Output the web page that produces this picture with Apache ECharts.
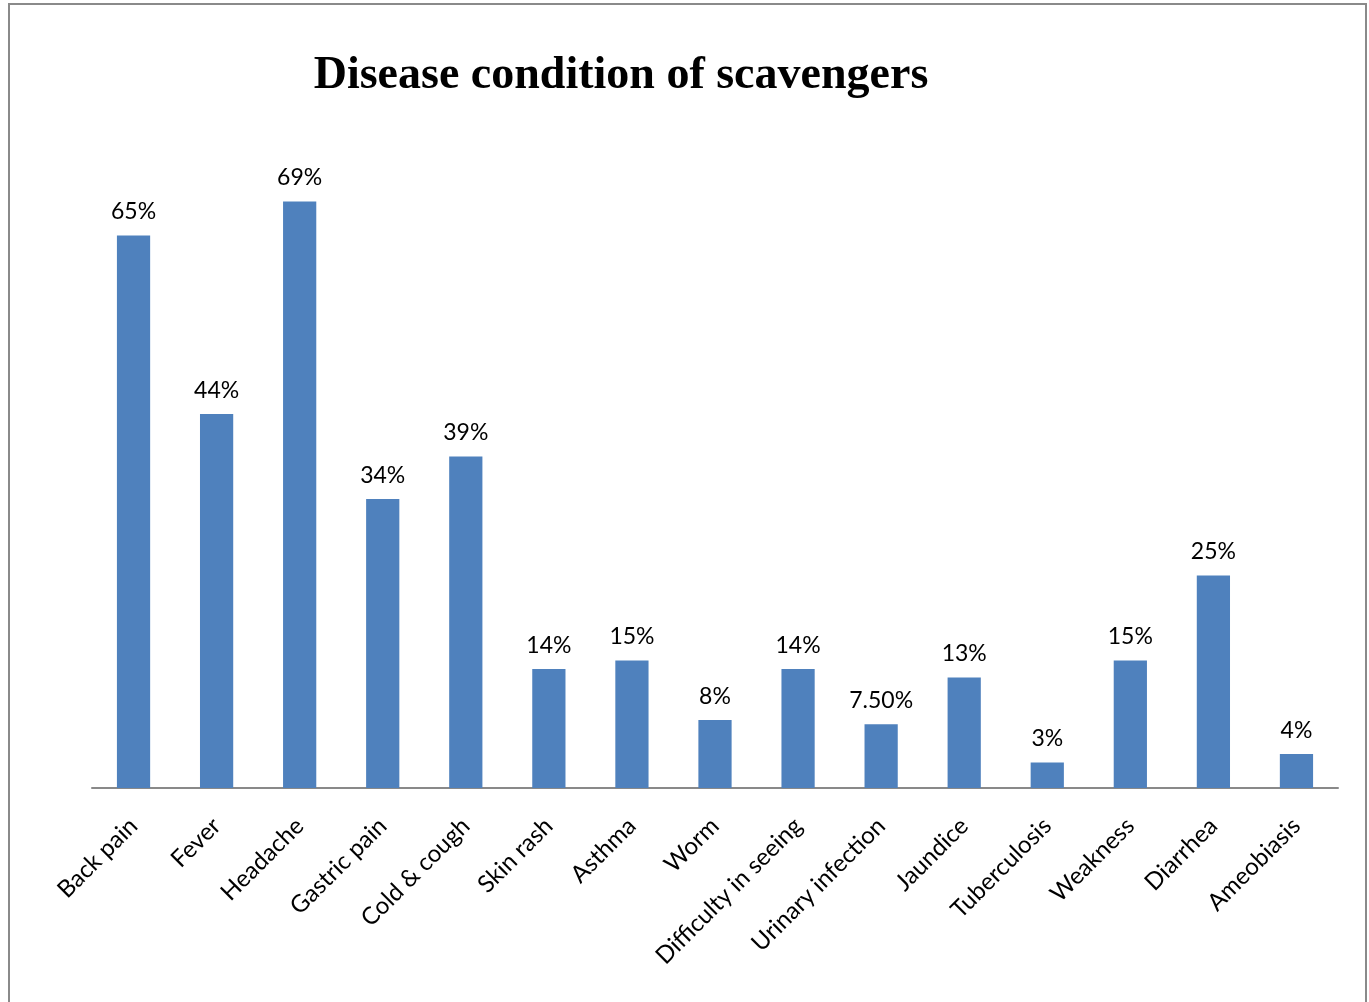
<!DOCTYPE html>
<html>
<head>
<meta charset="utf-8">
<script src="https://cdn.jsdelivr.net/npm/echarts@6/dist/echarts.min.js"></script>
<style>
  html, body { margin: 0; padding: 0; background: #fff; }
  #chart { width: 1369px; height: 1002px; }
</style>
</head>
<body>
<div id="chart"></div>
<script>
// Values (percent)
const categories = ["Back pain", "Fever", "Headache", "Gastric pain", "Cold & cough", "Skin rash", "Asthma", "Worm",
  "Difficulty in seeing", "Urinary infection", "Jaundice", "Tuberculosis", "Weakness", "Diarrhea", "Ameobiasis"];
const values = [65, 44, 69, 34, 39, 14, 15, 8, 14, 7.5, 13, 3, 15, 25, 4];
const valueLabels = ["65%", "44%", "69%", "34%", "39%", "14%", "15%", "8%", "14%", "7.50%", "13%", "3%", "15%", "25%", "4%"];

const chart = echarts.init(document.getElementById("chart"));

const options = {
  animation: false,
  title: {
    text: "Disease condition of scavengers",
    left: 616,
    textAlign: "center",
    top: 48,
    textStyle: { fontFamily: "Liberation Serif", fontWeight: "bold", fontSize: 46, color: "#000" }
  },
  // chart frame (left, top, right edges)
  graphic: [{
    type: "polyline",
    shape: { points: [[9, 1002], [9, 4], [1366, 4], [1366, 1002]] },
    style: { stroke: "#8a8a8a", lineWidth: 2, fill: null }
  }],
  grid: { left: 92, right: 31, top: 108, bottom: 214 },
  xAxis: {
    type: "category",
    data: categories,
    axisLine: { lineStyle: { color: "#898989", width: 2 } },
    axisTick: { show: false },
    axisLabel: {
      interval: 0,
      rotate: 45,
      margin: 34,
      fontFamily: "Lato",
      fontSize: 24,
      color: "#000"
    }
  },
  yAxis: {
    type: "value",
    min: 0,
    max: 80,
    show: false,
    splitLine: { show: false }
  },
  series: [{
    type: "bar",
    data: values,
    barCategoryGap: "60%",
    itemStyle: { color: "#4f81bd" },
    label: {
      show: true,
      position: "top",
      distance: 12,
      fontFamily: "Lato",
      fontSize: 23,
      color: "#000",
      formatter: (p) => valueLabels[p.dataIndex]
    }
  }]
};

chart.setOption(options);

window.addEventListener("resize", () => {
  chart.resize();
});
</script>
</body>
</html>
